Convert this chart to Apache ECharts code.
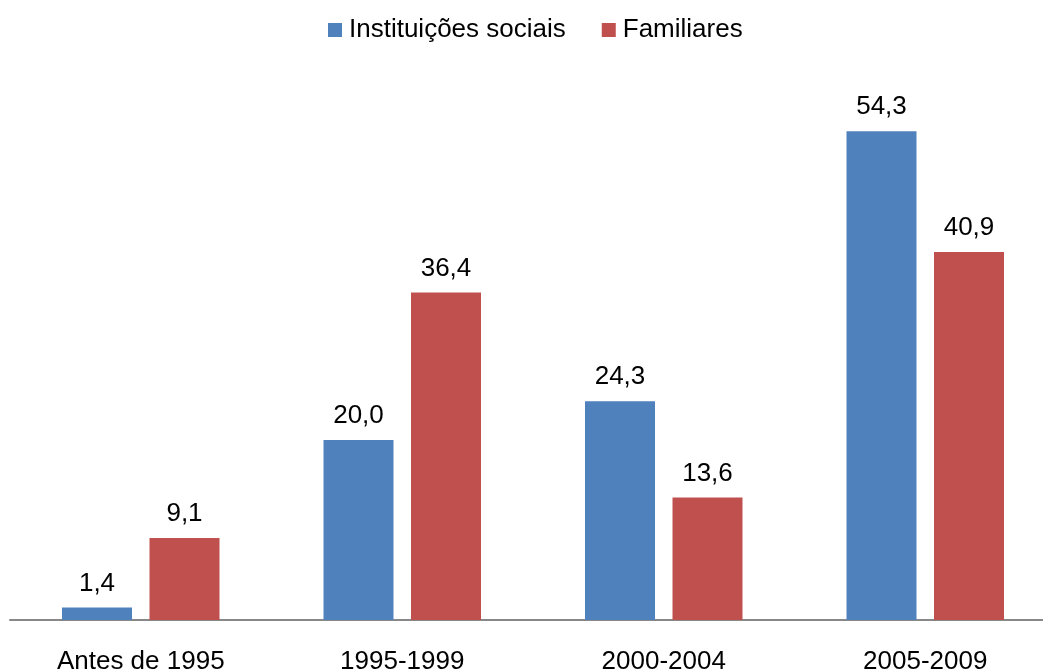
<!DOCTYPE html>
<html>
<head>
<meta charset="utf-8">
<script src="https://cdn.jsdelivr.net/npm/echarts@6/dist/echarts.min.js"></script>
<style>
  html, body { margin: 0; padding: 0; background: #fff; }
  #chart { width: 1043px; height: 671px; }
</style>
</head>
<body>
<div id="chart"></div>
<script>
// Período de início e percentual por tipo de mantenedora
const categories = ['Antes de 1995', '1995-1999', '2000-2004', '2005-2009'];
const instituicoesSociais = [1.4, 20.0, 24.3, 54.3];
const familiares = [9.1, 36.4, 13.6, 40.9];
const seriesNames = ['Instituições sociais', 'Familiares'];

const FONT = 'Liberation Sans, Arial, sans-serif';
const fmt = p => p.value.toFixed(1).replace('.', ',');

const chart = echarts.init(document.getElementById('chart'), null, { renderer: 'canvas' });

const labelStyle = {
  show: true,
  position: 'top',
  distance: 11,
  fontFamily: FONT,
  fontSize: 26,
  color: '#000',
  formatter: fmt
};

chart.setOption({
  animation: false,
  backgroundColor: '#fff',
  legend: {
    data: seriesNames,
    left: 328,
    top: 17,
    padding: 0,
    icon: 'rect',
    itemWidth: 14,
    itemHeight: 14,
    itemGap: 36,
    textStyle: { fontFamily: FONT, fontSize: 26, color: '#000', padding: [0, 0, 0, 2] }
  },
  grid: { left: 10, top: 80, width: 1046, height: 540, containLabel: false, outerBoundsMode: 'none' },
  xAxis: {
    type: 'category',
    data: categories,
    axisLine: { show: true, lineStyle: { color: '#888', width: 2 } },
    axisTick: { show: false },
    axisLabel: { fontFamily: FONT, fontSize: 26, color: '#000', margin: 29 }
  },
  yAxis: {
    type: 'value',
    min: 0,
    max: 60,
    show: false,
    splitLine: { show: false }
  },
  series: [
    {
      name: seriesNames[0],
      type: 'bar',
      data: instituicoesSociais,
      barWidth: 70,
      barGap: '25%',
      itemStyle: { color: '#4F81BD' },
      label: labelStyle
    },
    {
      name: seriesNames[1],
      type: 'bar',
      data: familiares,
      barWidth: 70,
      barGap: '25%',
      itemStyle: { color: '#C0504D' },
      label: labelStyle
    }
  ]
});
</script>
</body>
</html>
